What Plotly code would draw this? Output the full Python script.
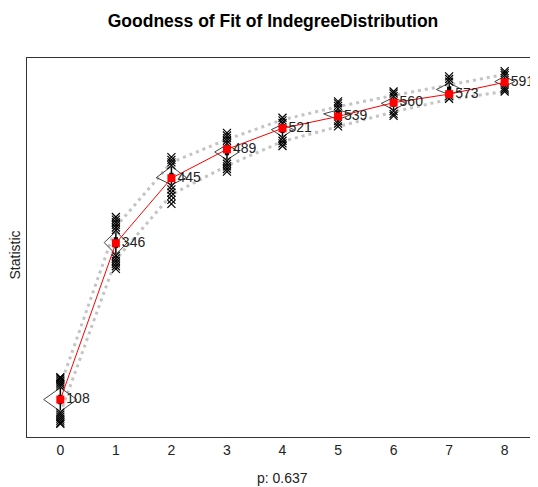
import plotly.graph_objects as go

categories = [0, 1, 2, 3, 4, 5, 6, 7, 8]
tick_labels = ["0", "1", "2", "3", "4", "5", "6", "7", "8"]
observed = [108, 346, 445, 489, 521, 539, 560, 573, 591]
q_upper = [129, 371, 469, 504, 534, 554, 571, 587, 603]
q_lower = [87, 321, 420, 464, 501, 523, 546, 565, 577]
violin_hi = [126, 364, 463, 496, 527, 549, 568, 590, 600]
violin_mid = [108, 347, 446, 485, 519, 543, 559, 580, 592]
violin_lo = [90, 329, 435, 473, 508, 534, 549, 572, 585]
violin_halfwidth = [0.30, 0.21, 0.27, 0.22, 0.20, 0.26, 0.22, 0.23, 0.18]
box_q1 = [102, 340, 441, 481, 515, 540, 555, 577, 589]
box_med = [108, 347, 446, 485, 519, 543, 559, 580, 592]
box_q3 = [114, 354, 452, 489, 523, 546, 563, 584, 596]
outliers_hi = [
    [128, 131, 134, 137, 140, 142],
    [366, 370, 374, 378, 382, 386],
    [465, 469, 473, 477],
    [498, 502, 506, 510, 514],
    [529, 533, 537],
    [551, 555, 559, 562],
    [570, 574, 577],
    [592, 596, 600],
    [602, 605, 608],
]
outliers_lo = [
    [88, 85, 82, 79, 76, 73, 71],
    [327, 323, 319, 315, 311, 307],
    [433, 428, 423, 418, 412, 406],
    [471, 467, 463, 459, 455],
    [506, 502, 498, 494],
    [532, 528, 524],
    [547, 543, 540],
    [570, 566],
    [583, 580, 577],
]

fig = go.Figure()

# quantile lines
for q in (q_upper, q_lower):
    fig.add_trace(go.Scatter(x=categories, y=q, mode="lines",
                             line=dict(color="#c4c4c4", width=3, dash="3px,4px"),
                             hoverinfo="skip", showlegend=False))

# violins (diamond outlines)
vx, vy = [], []
for c, hi, mid, lo, w in zip(categories, violin_hi, violin_mid, violin_lo, violin_halfwidth):
    vx += [c, c + w, c, c - w, c, None]
    vy += [hi, mid, lo, mid, hi, None]
fig.add_trace(go.Scatter(x=vx, y=vy, mode="lines",
                         line=dict(color="#444444", width=1),
                         hoverinfo="skip", showlegend=False))

# boxes
fig.add_trace(go.Box(x=categories, q1=box_q1, median=box_med, q3=box_q3,
                     lowerfence=violin_lo, upperfence=violin_hi,
                     width=0.05, whiskerwidth=0, fillcolor="black",
                     line=dict(color="black", width=1.5),
                     boxpoints=False, showlegend=False, hoverinfo="skip"))

# outliers
ox, oy = [], []
for c, hi, lo in zip(categories, outliers_hi, outliers_lo):
    for v in hi + lo:
        ox.append(c)
        oy.append(v)
fig.add_trace(go.Scatter(x=ox, y=oy, mode="markers",
                         marker=dict(symbol="x-thin", size=8,
                                     line=dict(color="black", width=1.2)),
                         hoverinfo="skip", showlegend=False))

# observed
fig.add_trace(go.Scatter(x=categories, y=observed, mode="lines+markers+text",
                         line=dict(color="red", width=1),
                         marker=dict(color="red", size=8, symbol="square"),
                         text=[str(v) for v in observed],
                         textposition="middle right",
                         cliponaxis=False,
                         textfont=dict(family="Liberation Sans, Arial", size=14, color="#222222"),
                         showlegend=False))

fig.update_layout(
    width=530, height=479,
    margin=dict(l=19, r=0, t=50, b=50, autoexpand=False),
    paper_bgcolor="white", plot_bgcolor="white",
    title=dict(text="<b>Goodness of Fit of IndegreeDistribution</b>",
               x=(273 - 8) / 530, xanchor="center", y=1 - 13 / 479, yanchor="middle",
               font=dict(family="Liberation Sans, Arial", size=17.5, color="black")),
    font=dict(family="Liberation Sans, Arial", color="black"),
    xaxis=dict(range=[-0.6, 8.6], tickvals=categories, ticktext=tick_labels,
               showgrid=False, zeroline=False, showline=True, mirror=True,
               linecolor="#333333", linewidth=1, ticks="", automargin=False,
               tickfont=dict(size=14, color="#222222")),
    yaxis=dict(range=[51, 628], showticklabels=False, showgrid=False,
               zeroline=False, showline=True, mirror=False, automargin=False,
               linecolor="#333333", linewidth=1, ticks=""),
    annotations=[
        dict(text="p: 0.637", xref="paper", yref="paper", x=0.5, y=-41 / 379,
             xanchor="center", yanchor="middle", showarrow=False,
             font=dict(size=14, color="#222222")),
        dict(text="Statistic", xref="paper", yref="paper", x=-13 / 511, y=0.5 - 8 / 379,
             xanchor="center", yanchor="middle", textangle=-90, showarrow=False,
             font=dict(size=14, color="#222222")),
    ],
)

fig.write_html("out.html")
